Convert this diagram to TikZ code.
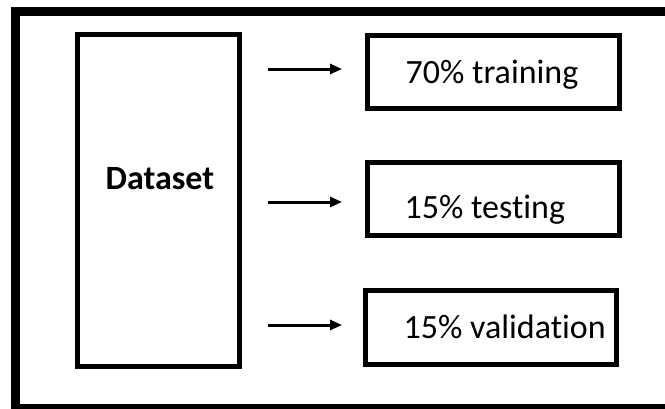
\documentclass[tikz,border=0pt]{standalone}
\usepackage{fontspec}
\setmainfont{Carlito}[Ligatures=NoCommon]
\usetikzlibrary{arrows.meta}
\begin{document}
\begin{tikzpicture}[x=1pt,y=-1pt,
  box/.style={draw=black,line width=5pt,fill=white,inner sep=0pt},
  lbl/.style={inner sep=0pt,anchor=base west,font=\fontsize{34}{40}\selectfont},
  arr/.style={line width=3pt,-{Triangle[length=12pt,width=10pt]}},
  frame/.style={line width=9pt}]
\useasboundingbox (0,0) rectangle (665,408);
\fill[white] (0,0) rectangle (665,408);
\draw[frame] (665,11.5) -- (15.5,11.5) -- (15.5,408.5) -- (665,408.5);
% dataset
\node[box,minimum width=162pt,minimum height=332pt] (ds) at (158.5,200.5) {};
\node[lbl,font=\fontsize{34}{40}\selectfont\bfseries] (dst) at (105.5,189) {Dataset};
% split boxes
\node[box,minimum width=252pt,minimum height=73pt] (tr) at (493.5,72) {};
\node[box,minimum width=252pt,minimum height=73pt] (te) at (493.5,199) {};
\node[box,minimum width=251pt,minimum height=74pt] (va) at (491,327.5) {};
\node[lbl] (trt) at (405.5,83) {70\% training};
\node[lbl] (tet) at (404.5,218) {15\% testing};
\node[lbl] (vat) at (403.5,338) {15\% validation};
% arrows
\coordinate (a1s) at (268,69);  \coordinate (a1e) at (342,69);
\coordinate (a2s) at (268,202); \coordinate (a2e) at (342,202);
\coordinate (a3s) at (268,325); \coordinate (a3e) at (342,325);
\draw[arr] (a1s) -- (a1e);
\draw[arr] (a2s) -- (a2e);
\draw[arr] (a3s) -- (a3e);
\end{tikzpicture}
\end{document}
